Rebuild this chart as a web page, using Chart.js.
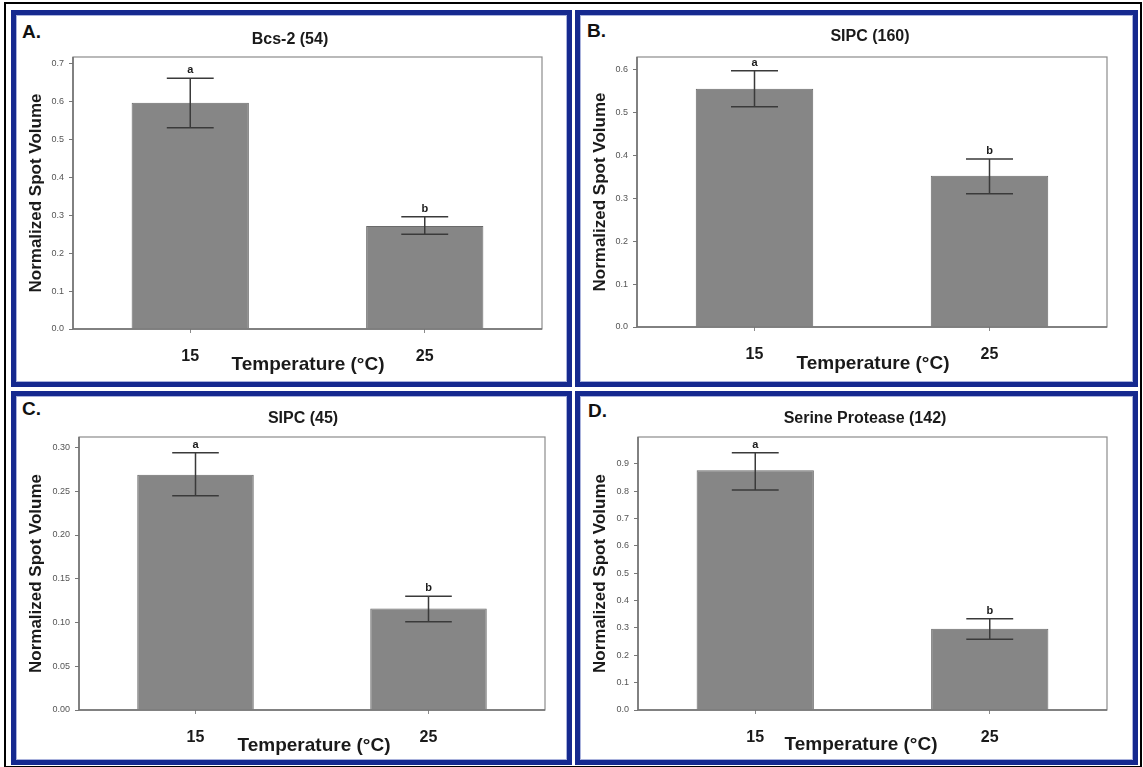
<!DOCTYPE html>
<html>
<head>
<meta charset="utf-8">
<script src="https://cdn.jsdelivr.net/npm/chart.js@4.4.1/dist/chart.umd.min.js"></script>
<style>
html,body{margin:0;padding:0;background:#fff;}
#page{position:relative;width:1143px;height:767px;overflow:hidden;background:#fff;font-family:"Liberation Sans",Arial,sans-serif;}
.outer{position:absolute;left:4px;top:2px;width:1138px;height:766px;border:2px solid #000;box-sizing:border-box;}
.panel{position:absolute;box-sizing:border-box;border:5px solid #15298f;box-shadow:inset 0 0 0 1px #a9b2dc;}
.letter{position:absolute;font-weight:bold;font-size:19px;color:#111;line-height:1;}
canvas{position:absolute;}
</style>
</head>
<body>
<div id="page">
  <div class="outer"></div>
  <div class="panel" style="left:11px;top:10px;width:561px;height:377px;"></div>
  <div class="panel" style="left:575px;top:10px;width:563px;height:377px;"></div>
  <div class="panel" style="left:11px;top:391px;width:561px;height:374px;"></div>
  <div class="panel" style="left:575px;top:391px;width:563px;height:374px;"></div>
  <div class="letter" style="left:22px;top:22px;">A.</div>
  <div class="letter" style="left:587px;top:21px;">B.</div>
  <div class="letter" style="left:22px;top:399px;">C.</div>
  <div class="letter" style="left:588px;top:401px;">D.</div>
  <canvas id="cA" width="551" height="367" style="left:16px;top:15px;width:551px;height:367px;"></canvas>
  <canvas id="cB" width="553" height="367" style="left:580px;top:15px;width:553px;height:367px;"></canvas>
  <canvas id="cC" width="551" height="364" style="left:16px;top:396px;width:551px;height:364px;"></canvas>
  <canvas id="cD" width="553" height="364" style="left:580px;top:396px;width:553px;height:364px;"></canvas>
</div>
<script>
// ---------------- DATA ----------------
const categories = ['15', '25'];
const groupLetters = ['a', 'b'];

const bcs2Means = [0.597, 0.272];
const bcs2Upper = [0.662, 0.296];
const bcs2Lower = [0.531, 0.250];

const sipc160Means = [0.556, 0.353];
const sipc160Upper = [0.598, 0.392];
const sipc160Lower = [0.514, 0.311];

const sipc45Means = [0.269, 0.116];
const sipc45Upper = [0.294, 0.130];
const sipc45Lower = [0.245, 0.101];

const serineMeans = [0.876, 0.297];
const serineUpper = [0.940, 0.334];
const serineLower = [0.804, 0.259];

const panelTitles = ['Bcs-2 (54)', 'SIPC (160)', 'SIPC (45)', 'Serine Protease (142)'];
const yAxisTitle = 'Normalized Spot Volume';
const xAxisTitle = 'Temperature (°C)';
const yMaxes = [0.718, 0.630, 0.312, 0.998];
const ySteps = [0.1, 0.1, 0.05, 0.1];
const yDecimals = [1, 1, 2, 1];

// ---------------- LAYOUT / STYLE ----------------
const FONT = '"Liberation Sans", Arial, Helvetica, sans-serif';
Chart.defaults.font.family = FONT;
const X_AXIS_H = 45;

const layouts = [
  {id:'cA', cv:{l:16, t:15, w:551, h:367}, area:{l:73, t:57, r:542, b:329}, tp:{x:290, y:40}, xp:{x:308, y:365}},
  {id:'cB', cv:{l:580, t:15, w:553, h:367}, area:{l:637, t:57, r:1107, b:327}, tp:{x:870, y:37}, xp:{x:873, y:364}},
  {id:'cC', cv:{l:16, t:396, w:551, h:364}, area:{l:79, t:437, r:545, b:710}, tp:{x:303, y:419}, xp:{x:314, y:746}},
  {id:'cD', cv:{l:580, t:396, w:553, h:364}, area:{l:638, t:437, r:1107, b:710}, tp:{x:865, y:419}, xp:{x:861, y:745}}
];

const panelData = [
  {means: bcs2Means, upper: bcs2Upper, lower: bcs2Lower},
  {means: sipc160Means, upper: sipc160Upper, lower: sipc160Lower},
  {means: sipc45Means, upper: sipc45Upper, lower: sipc45Lower},
  {means: serineMeans, upper: serineUpper, lower: serineLower}
];

function makeDecor(p, L, title) {
  return {
    id: 'decor_' + L.id,
    afterDatasetsDraw(chart) {
      const ctx = chart.ctx;
      const a = chart.chartArea;
      ctx.save();
      // plot frame
      ctx.strokeStyle = '#8c8c8c';
      ctx.lineWidth = 1.2;
      ctx.strokeRect(a.left, a.top, a.right - a.left, a.bottom - a.top);
      ctx.strokeStyle = '#6f6f6f';
      ctx.lineWidth = 1.5;
      ctx.beginPath();
      ctx.moveTo(a.left, a.top);
      ctx.lineTo(a.left, a.bottom);
      ctx.lineTo(a.right, a.bottom);
      ctx.stroke();
      // error bars + letters
      const ys = chart.scales.y;
      const meta = chart.getDatasetMeta(0);
      meta.data.forEach((el, i) => {
        const x = el.x;
        const yU = ys.getPixelForValue(p.upper[i]);
        const yL = ys.getPixelForValue(p.lower[i]);
        const cap = el.width * 0.4;
        ctx.strokeStyle = '#3a3a3a';
        ctx.lineWidth = 1.5;
        ctx.beginPath();
        ctx.moveTo(x, yU); ctx.lineTo(x, yL);
        ctx.moveTo(x - cap / 2, yU); ctx.lineTo(x + cap / 2, yU);
        ctx.moveTo(x - cap / 2, yL); ctx.lineTo(x + cap / 2, yL);
        ctx.stroke();
        ctx.fillStyle = '#1a1a1a';
        ctx.font = 'bold 11px ' + FONT;
        ctx.textAlign = 'center';
        ctx.textBaseline = 'alphabetic';
        ctx.fillText(groupLetters[i], x, yU - 5);
      });
      ctx.restore();
    },
    afterDraw(chart) {
      const ctx = chart.ctx;
      ctx.save();
      ctx.fillStyle = '#1a1a1a';
      ctx.textAlign = 'center';
      ctx.textBaseline = 'middle';
      ctx.font = 'bold 16px ' + FONT;
      ctx.fillText(title, L.tp.x - L.cv.l, L.tp.y - L.cv.t);
      ctx.font = 'bold 19px ' + FONT;
      ctx.fillText(xAxisTitle, L.xp.x - L.cv.l, L.xp.y - L.cv.t);
      ctx.restore();
    }
  };
}

layouts.forEach((L, k) => {
  const p = panelData[k];
  const yAxisW = L.area.l - L.cv.l;
  const pad = {
    left: 0,
    top: L.area.t - L.cv.t,
    right: (L.cv.l + L.cv.w) - L.area.r,
    bottom: (L.cv.t + L.cv.h) - L.area.b - X_AXIS_H
  };
  new Chart(document.getElementById(L.id), {
    type: 'bar',
    data: {
      labels: categories,
      datasets: [{
        data: p.means,
        backgroundColor: '#868686',
        borderColor: '#6a6a6a',
        borderWidth: 1,
        categoryPercentage: 1.0,
        barPercentage: 0.5
      }]
    },
    options: {
      responsive: false,
      maintainAspectRatio: false,
      animation: false,
      devicePixelRatio: 1,
      layout: {padding: pad, autoPadding: false},
      plugins: {legend: {display: false}, tooltip: {enabled: false}, title: {display: false}},
      scales: {
        x: {
          type: 'category',
          offset: true,
          grid: {display: true, drawOnChartArea: false, drawTicks: true, tickLength: 4, offset: false, color: '#8a8a8a'},
          border: {display: false},
          ticks: {font: {size: 16, weight: 'bold'}, color: '#1a1a1a', padding: 14, maxRotation: 0, autoSkip: false},
          afterFit(s) { s.height = X_AXIS_H; }
        },
        y: {
          min: 0,
          max: yMaxes[k],
          grid: {display: true, drawOnChartArea: false, drawTicks: true, tickLength: 4, color: '#777'},
          border: {display: false},
          ticks: {
            stepSize: ySteps[k],
            includeBounds: false,
            font: {size: 9},
            color: '#555',
            padding: 5,
            callback: (v) => Number(v).toFixed(yDecimals[k])
          },
          title: {display: true, text: yAxisTitle, font: {size: 17, weight: 'bold'}, color: '#1a1a1a', padding: {top: 10, bottom: 0}},
          afterFit(s) { s.width = yAxisW; }
        }
      }
    },
    plugins: [makeDecor(p, L, panelTitles[k])]
  });
});
</script>
</body>
</html>
